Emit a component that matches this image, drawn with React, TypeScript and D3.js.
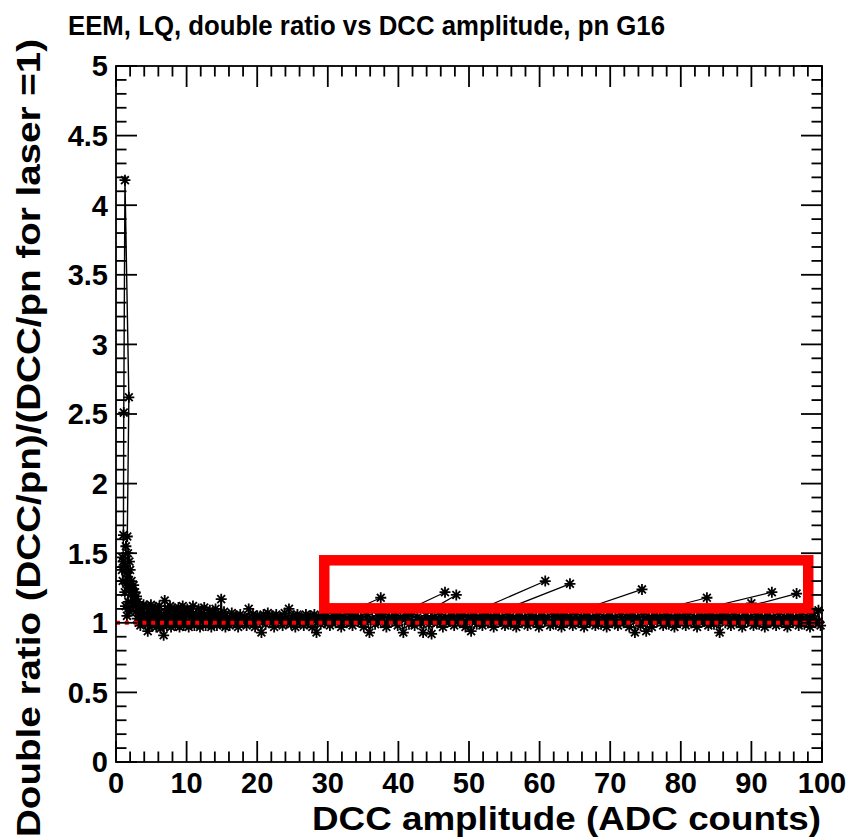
import React from 'react';
import * as d3 from 'd3';

const W = 852;
const H = 840;

const titleText = 'EEM, LQ, double ratio vs DCC amplitude, pn G16';
const xTitleText = 'DCC amplitude (ADC counts)';
const yTitleText = 'Double ratio (DCC/pn)/(DCC/pn for laser =1)';

const xMajorTicks = [0, 10, 20, 30, 40, 50, 60, 70, 80, 90, 100];
const yMajorTicks = [0, 0.5, 1, 1.5, 2, 2.5, 3, 3.5, 4, 4.5, 5];
const yTickLabels = ['0', '0.5', '1', '1.5', '2', '2.5', '3', '3.5', '4', '4.5', '5'];

// low-amplitude spike region (DCC amplitude, double ratio)
const spikePoints: [number, number][] = [
  [0.85, 1.38], [0.9, 1.47], [0.95, 1.3], [1.0, 1.44], [1.05, 1.63], [1.1, 2.51], [1.27, 4.18],
  [1.82, 2.62], [1.6, 1.62], [1.4, 1.55], [1.3, 1.41], [1.5, 1.36], [1.7, 1.5], [1.9, 1.44],
  [1.25, 1.22], [1.45, 1.28], [1.65, 1.33], [1.85, 1.25], [2.0, 1.38], [2.1, 1.2], [2.2, 1.3],
  [1.35, 1.12], [1.55, 1.05], [1.75, 1.15], [1.95, 1.08], [2.3, 1.24], [2.4, 1.12], [2.5, 1.27],
  [2.6, 1.16], [2.7, 1.22], [2.8, 1.08], [2.9, 1.19], [3.0, 1.03], [3.1, 1.15], [3.2, 1.0],
  [3.3, 1.12], [3.45, 0.98], [3.6, 1.1], [3.75, 1.01], [3.9, 1.13],
];

// 4 - 15.5 ADC
const bandLow: [number, number][] = [
  [4.05, 1.06], [4.2, 0.99], [4.35, 1.12], [4.5, 0.94], [4.65, 1.08], [4.8, 1.01], [4.95, 1.13],
  [5.1, 0.98], [5.25, 1.07], [5.4, 1.02], [5.55, 1.11], [5.7, 0.97], [5.85, 1.09], [6.0, 1.0],
  [6.15, 1.12], [6.3, 0.96], [6.45, 1.06], [6.6, 1.01], [6.75, 0.91], [6.9, 1.16], [7.05, 1.03],
  [7.2, 0.98], [7.35, 1.1], [7.5, 1.0], [7.65, 1.12], [7.8, 0.97], [7.95, 1.07], [8.1, 1.01],
  [8.25, 1.1], [8.4, 0.98], [8.55, 1.08], [8.7, 1.02], [8.85, 1.11], [9.0, 0.97], [9.15, 1.06],
  [9.3, 1.0], [9.45, 1.12], [9.6, 0.98], [9.75, 1.07], [9.9, 1.01], [10.1, 1.1], [10.3, 0.97],
  [10.5, 1.08], [10.7, 1.0], [10.9, 1.12], [11.1, 0.98], [11.3, 1.06], [11.5, 1.02], [11.7, 1.1],
  [11.9, 0.97], [12.1, 1.07], [12.3, 1.01], [12.5, 1.11], [12.7, 0.98], [12.9, 1.06], [13.1, 1.0],
  [13.3, 1.09], [13.5, 0.97], [13.7, 1.07], [13.9, 1.02], [14.1, 1.1], [14.3, 0.98], [14.5, 1.06],
  [14.7, 1.01], [14.9, 1.17], [15.1, 0.99], [15.3, 1.08], [15.5, 0.97],
];

// 15.5 - 30 ADC
const bandMid: [number, number][] = [
  [15.8, 1.04], [16.1, 0.98], [16.4, 1.07], [16.7, 1.0], [17.0, 1.05], [17.3, 0.97], [17.6, 1.06],
  [17.9, 1.01], [18.2, 1.04], [18.5, 0.98], [18.8, 1.1], [19.1, 1.0], [19.4, 1.06], [19.7, 0.97],
  [20.0, 1.05], [20.3, 1.01], [20.6, 0.93], [20.9, 1.06], [21.2, 0.99], [21.5, 1.07], [21.8, 1.0],
  [22.1, 1.05], [22.4, 0.97], [22.7, 1.06], [23.0, 1.01], [23.3, 1.04], [23.6, 0.98], [23.9, 1.07],
  [24.2, 1.0], [24.5, 1.1], [24.8, 0.99], [25.1, 1.05], [25.4, 0.97], [25.7, 1.06], [26.0, 1.01],
  [26.3, 1.04], [26.6, 0.98], [26.9, 1.06], [27.2, 1.0], [27.5, 1.05], [27.8, 0.97], [28.1, 1.06],
  [28.4, 0.93], [28.7, 1.04], [29.0, 0.99], [29.3, 1.06], [29.6, 1.0], [29.9, 1.05],
];

// 30 - 100 ADC
const bandHigh: [number, number][] = [
  [30.3, 0.98], [30.7, 1.05], [31.1, 1.0], [31.5, 1.06], [31.9, 0.97], [32.3, 1.04], [32.7, 1.0],
  [33.1, 1.06], [33.5, 0.98], [33.9, 1.05], [34.3, 1.01], [34.7, 1.04], [35.1, 0.97], [35.5, 1.06],
  [35.9, 0.93], [36.3, 1.03], [36.7, 0.99], [37.1, 1.05], [37.5, 1.0], [37.9, 1.06], [38.3, 0.97],
  [38.7, 1.04], [39.1, 1.01], [39.5, 1.05], [39.9, 0.98], [40.3, 1.04], [40.7, 0.93], [41.1, 1.05],
  [41.5, 0.99], [41.9, 1.06], [42.3, 0.98], [42.7, 1.04], [43.1, 1.0], [43.5, 0.93], [43.9, 1.05],
  [44.3, 0.99], [44.7, 0.92], [45.1, 1.04], [45.5, 1.0], [45.9, 1.06], [46.3, 0.97], [46.7, 1.04],
  [47.1, 1.01], [47.5, 1.05], [47.9, 0.98], [48.3, 1.04], [48.7, 1.0], [49.1, 1.06], [49.5, 0.97],
  [49.9, 1.04], [50.3, 0.94], [50.7, 1.05], [51.1, 0.99], [51.5, 1.04], [51.9, 0.98], [52.3, 1.06],
  [52.7, 1.0], [53.1, 1.04], [53.5, 0.97], [53.9, 1.05], [54.3, 1.01], [54.7, 1.04], [55.1, 0.98],
  [55.5, 1.06], [55.9, 0.99], [56.3, 1.04], [56.7, 0.97], [57.1, 1.05], [57.5, 1.0], [57.9, 1.04],
  [58.3, 0.98], [58.7, 1.06], [59.1, 1.0], [59.5, 1.04], [59.9, 0.97], [60.3, 1.05], [60.7, 1.01],
  [61.1, 1.04], [61.5, 0.98], [61.9, 1.06], [62.3, 0.99], [62.7, 1.04], [63.1, 0.97], [63.5, 1.05],
  [63.9, 1.0], [64.3, 1.04], [64.7, 0.98], [65.1, 1.06], [65.5, 1.0], [65.9, 1.04], [66.3, 0.97],
  [66.7, 1.05], [67.1, 1.01], [67.5, 1.04], [67.9, 0.98], [68.3, 1.06], [68.7, 0.99], [69.1, 1.04],
  [69.5, 0.97], [69.9, 1.05], [70.3, 1.0], [70.7, 1.04], [71.1, 0.98], [71.5, 1.06], [71.9, 1.0],
  [72.3, 1.04], [72.7, 0.97], [73.1, 1.05], [73.5, 0.93], [73.9, 1.04], [74.3, 0.98], [74.7, 1.06],
  [75.1, 0.94], [75.5, 1.04], [75.9, 0.97], [76.3, 1.05], [76.7, 1.01], [77.1, 1.04], [77.5, 0.98],
  [77.9, 1.06], [78.3, 0.99], [78.7, 1.04], [79.1, 0.97], [79.5, 1.05], [79.9, 1.0], [80.3, 1.04],
  [80.7, 0.98], [81.1, 1.06], [81.5, 1.0], [81.9, 1.04], [82.3, 0.97], [82.7, 1.05], [83.1, 1.01],
  [83.5, 1.04], [83.9, 0.98], [84.3, 1.06], [84.7, 0.99], [85.1, 1.04], [85.5, 0.93], [85.9, 1.05],
  [86.3, 1.0], [86.7, 1.04], [87.1, 0.98], [87.5, 1.06], [87.9, 1.0], [88.3, 1.04], [88.7, 0.97],
  [89.1, 1.05], [89.5, 1.01], [89.9, 1.04], [90.3, 0.98], [90.7, 1.06], [91.1, 0.99], [91.5, 1.04],
  [91.9, 0.97], [92.3, 1.05], [92.7, 1.0], [93.1, 1.04], [93.5, 0.98], [93.9, 1.06], [94.3, 1.0],
  [94.7, 1.04], [95.1, 0.97], [95.5, 1.05], [95.9, 1.01], [96.3, 1.04], [96.7, 0.98], [97.1, 1.06],
  [97.5, 0.99], [97.9, 1.04], [98.3, 0.97], [98.7, 1.07], [99.1, 1.0], [99.5, 1.09], [99.8, 0.98],
];

// second pass of the same channels (interleaved amplitudes)
const bandRepeat: [number, number][] = [
  [4.1, 1.03], [5.0, 1.05], [5.9, 1.02], [6.8, 1.06], [7.7, 1.03], [8.6, 1.05], [9.5, 1.02],
  [10.4, 1.06], [11.3, 1.03], [12.2, 1.04], [13.1, 1.02], [14.0, 1.05], [14.9, 1.03], [15.8, 1.01],
  [16.7, 1.04], [17.6, 1.02], [18.5, 1.03], [19.4, 1.01], [20.3, 1.04], [21.2, 1.02], [22.1, 1.03],
  [23.0, 1.01], [23.9, 1.03], [24.8, 1.02], [25.7, 1.04], [26.6, 1.01], [27.5, 1.03], [28.4, 1.02],
  [29.3, 1.03], [30.2, 1.01], [31.1, 1.03], [32.0, 1.02], [32.9, 1.01], [33.8, 1.03], [34.7, 1.0],
  [35.6, 1.02], [36.5, 1.01], [37.4, 1.03], [38.3, 1.0], [39.2, 1.02], [40.1, 1.01], [41.0, 1.03],
  [41.9, 1.0], [42.8, 1.02], [43.7, 1.01], [44.6, 1.03], [45.5, 1.0], [46.4, 1.02], [47.3, 1.01],
  [48.2, 1.03], [49.1, 1.0], [50.0, 1.02], [50.9, 1.01], [51.8, 1.03], [52.7, 1.0], [53.6, 1.02],
  [54.5, 1.01], [55.4, 1.03], [56.3, 1.0], [57.2, 1.02], [58.1, 1.01], [59.0, 1.03], [59.9, 1.0],
  [60.8, 1.02], [61.7, 1.01], [62.6, 1.03], [63.5, 1.0], [64.4, 1.02], [65.3, 1.01], [66.2, 1.03],
  [67.1, 1.0], [68.0, 1.02], [68.9, 1.01], [69.8, 1.03], [70.7, 1.0], [71.6, 1.02], [72.5, 1.01],
  [73.4, 1.03], [74.3, 1.0], [75.2, 1.02], [76.1, 1.01], [77.0, 1.03], [77.9, 1.0], [78.8, 1.02],
  [79.7, 1.01], [80.6, 1.03], [81.5, 1.0], [82.4, 1.02], [83.3, 1.01], [84.2, 1.03], [85.1, 1.0],
  [86.0, 1.02], [86.9, 1.01], [87.8, 1.03], [88.7, 1.0], [89.6, 1.02], [90.5, 1.01], [91.4, 1.03],
  [92.3, 1.0], [93.2, 1.02], [94.1, 1.01], [95.0, 1.03], [95.9, 1.0], [96.8, 1.02], [97.7, 1.01],
  [98.6, 1.03], [99.5, 1.01],
];

// outliers reached by a jump from a band point
const jumpFromAmp = [31.4, 39.1, 44.8, 49.0, 52.3, 62.9, 72.9, 78.2, 83.8, 86.0];
const jumpFromRatio = [1.04, 1.04, 1.1, 1.04, 1.04, 1.04, 1.04, 1.04, 1.04, 1.06];
const outlierAmp = [37.5, 46.6, 48.2, 60.8, 64.3, 74.5, 83.7, 92.9, 96.4, 90.0];
const outlierRatio = [1.18, 1.22, 1.2, 1.3, 1.28, 1.24, 1.18, 1.22, 1.21, 1.14];

// highlight box (data coordinates) and reference level
const boxAmp = [29.5, 98.05];
const boxRatio = [1.104, 1.449];
const referenceRatio = 1;

const PL = 116, PR = 822, PT = 66, PB = 762;
const FONT = "'Liberation Sans', Arial, Helvetica, sans-serif";
const STAR = 'M-5.5,0H5.5M0,-5.5V5.5M-3.9,-3.9L3.9,3.9M-3.9,3.9L3.9,-3.9';

export default function App() {
  const x = d3.scaleLinear().domain([0, 100]).range([PL, PR]);
  const y = d3.scaleLinear().domain([0, 5]).range([PB, PT]);
  const seq = [...spikePoints, ...bandLow, ...bandMid, ...bandHigh];
  const line = d3.line<[number, number]>().x((d) => x(d[0])).y((d) => y(d[1]));
  const xMinor = x.ticks(50);
  const yMinor = y.ticks(50);
  const majX = 21, minX = 10.5, majY = 21, minY = 10.5;
  const jumps = outlierAmp.map((a, i) => [[jumpFromAmp[i], jumpFromRatio[i]], [a, outlierRatio[i]]] as [number, number][]);
  const allMarkers: [number, number][] = [...seq, ...bandRepeat, ...jumps.flat()];
  const axisW = 1.8;

  return (
    <svg width={W} height={H} style={{ position: 'absolute', left: 0, top: 0, background: '#fff' }}>
      <rect x={0} y={0} width={W} height={H} fill="#fff" />
      <text x={68} y={35} fontFamily={FONT} fontWeight="bold" fontSize={27.5} textLength={597} lengthAdjust="spacingAndGlyphs" fill="#000">{titleText}</text>

      {/* data */}
      <path d={line(seq) || ''} fill="none" stroke="#000" strokeWidth={1.4} />
      <path d={line(bandRepeat) || ''} fill="none" stroke="#000" strokeWidth={1.4} />
      {jumps.map((j, i) => (
        <path key={'j' + i} d={line(j) || ''} fill="none" stroke="#000" strokeWidth={1.2} />
      ))}
      {allMarkers.map((d, i) => (
        <path key={'m' + i} d={STAR} transform={`translate(${x(d[0])},${y(d[1])})`} stroke="#000" strokeWidth={1.8} fill="none" />
      ))}

      {/* reference line */}
      <line x1={x(0)} x2={x(100)} y1={y(referenceRatio)} y2={y(referenceRatio)} stroke="#ff0000" strokeWidth={4} strokeDasharray="4 4.8" />

      {/* highlight box */}
      <rect x={x(boxAmp[0])} y={y(boxRatio[1])} width={x(boxAmp[1]) - x(boxAmp[0])} height={y(boxRatio[0]) - y(boxRatio[1])}
        fill="none" stroke="#ff0000" strokeWidth={10.5} />

      {/* frame */}
      <rect x={PL} y={PT} width={PR - PL} height={PB - PT} fill="none" stroke="#000" strokeWidth={axisW} />

      {/* ticks */}
      {xMinor.map((t, i) => {
        const major = xMajorTicks.includes(t);
        const len = major ? majX : minX;
        return (
          <g key={'xt' + i}>
            <line x1={x(t)} x2={x(t)} y1={PB} y2={PB - len} stroke="#000" strokeWidth={axisW} />
            <line x1={x(t)} x2={x(t)} y1={PT} y2={PT + len} stroke="#000" strokeWidth={axisW} />
          </g>
        );
      })}
      {yMinor.map((t, i) => {
        const major = yMajorTicks.some((m) => Math.abs(m - t) < 1e-9);
        const len = major ? majY : minY;
        return (
          <g key={'yt' + i}>
            <line x1={PL} x2={PL + len} y1={y(t)} y2={y(t)} stroke="#000" strokeWidth={axisW} />
            <line x1={PR} x2={PR - len} y1={y(t)} y2={y(t)} stroke="#000" strokeWidth={axisW} />
          </g>
        );
      })}

      {xMajorTicks.map((t) => (
        <text key={'xl' + t} x={x(t)} y={793} textAnchor="middle" fontFamily={FONT} fontWeight="bold" fontSize={29} fill="#000">{t}</text>
      ))}
      {yMajorTicks.map((t, i) => (
        <text key={'yl' + t} x={108} y={y(t)} dy="0.36em" textAnchor="end" fontFamily={FONT} fontWeight="bold" fontSize={29} fill="#000">{yTickLabels[i]}</text>
      ))}

      <text x={312} y={830} fontFamily={FONT} fontWeight="bold" fontSize={32.5} textLength={509} lengthAdjust="spacingAndGlyphs" fill="#000">{xTitleText}</text>
      <text transform={`translate(40,837) rotate(-90)`} fontFamily={FONT} fontWeight="bold" fontSize={32.5} textLength={798} lengthAdjust="spacingAndGlyphs" fill="#000">{yTitleText}</text>
    </svg>
  );
}
